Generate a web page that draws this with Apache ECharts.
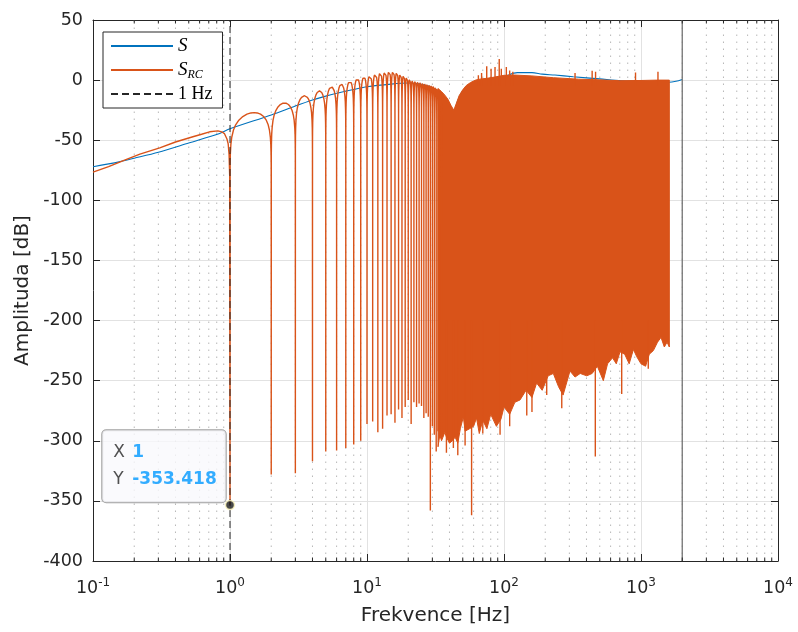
<!DOCTYPE html>
<html><head><meta charset="utf-8">
<script src="https://cdn.jsdelivr.net/npm/echarts@6/dist/echarts.min.js"></script>
<style>html,body{margin:0;padding:0;background:#fff}#c{width:798px;height:632px}</style>
</head><body><div id="c"></div>
<script>
// ---------------- data ----------------
const xTickHz = [0.1, 1, 10, 100, 1000, 10000];
const xTickExp = ['-1', '0', '1', '2', '3', '4'];
const yTickMin = -400, yTickMax = 50, yTickStep = 50;

// S (blue)
const sHz = [0.1, 0.155, 0.2, 0.3, 0.5, 0.84, 1, 2, 3, 4, 5, 6, 8, 10, 15, 20, 24, 28, 32, 36, 40, 43, 46, 50, 57, 65, 80, 100, 125, 160, 190, 235, 320, 500, 720, 1000, 1300, 1600, 1800, 2000];
const sDb = [-72, -68, -65, -60, -52.3, -44.4, -40.5, -29, -21.6, -16.6, -13.3, -11, -7.8, -5.5, -3.3, -2.4, -3, -5, -8, -13, -20, -26, -17, -9, -3, -1, 0.5, 3, 6.2, 6.2, 5, 4.2, 2.8, 1, -0.5, -0.8, -1.5, -1.8, -1, 0.5];

// S_RC (orange) below 1 Hz
const rcLowHz = [0.1, 0.13, 0.17, 0.22, 0.307, 0.4, 0.536, 0.62, 0.71, 0.816, 0.87, 0.91, 0.95, 0.97, 0.985, 0.995];
const rcLowDb = [-76.5, -72, -66.5, -61.5, -56.3, -51.5, -47.1, -45, -43, -42.2, -43, -44.4, -49, -53, -62, -80];

// S_RC notches at integer Hz and lobe peaks between them
const notchHz = [1,2,3,4,5,6,7,8,9,10,11,12,13,14,15,16,17,18,19,20,21,22,23,24,25,26,27,28,29,30,31,32,33,34,35];
const notchDb = [-353.418,-328,-327,-317,-309,-308,-306,-303,-300,-286,-284,-293,-290,-279,-278,-285,-274,-281,-272,-266,-286,-268,-272,-269,-271,-281,-277,-280,-358,-288,-295,-309,-292,-298,-297];
const lobePeakDb = [-27,-19,-13,-9,-5.5,-3.3,-0.8,1.4,2.8,4.2,5.5,6.6,7.2,7.8,7.8,7,5.5,4.5,3,1.5,0.5,0,-0.5,-1,-1.5,-2,-2.5,-3,-3.5,-4,-5,-6,-7.5,-9];
// shape of one lobe (position inside lobe, dB relative to lobe peak)
const lobeFrac = [0.002,0.006,0.015,0.03,0.06,0.1,0.16,0.24,0.33,0.42,0.5,0.58,0.67,0.76,0.84,0.9,0.94,0.97,0.985,0.994,0.998];
const lobeShapeDb = [-44,-34.5,-26.5,-20.5,-14.5,-10.2,-6.3,-3.3,-1.3,-0.3,0,-0.3,-1.3,-3.3,-6.3,-10.2,-14.5,-20.5,-26.5,-34.5,-44];

// S_RC dense region: upper and lower envelope
const bandTopHz = [33,35,37,39,41,43,45,47,50,53,57,62,68,75,85,100,120,160,230,350,500,700,1000,1300,1610];
const bandTopDb = [-7,-9.5,-12.5,-16,-21,-25,-19,-13,-8,-4.5,-2,0,1,1.5,2.5,4,4.2,3.5,2,0.8,0.2,-0.5,-0.3,0,0];
const bandBotHz = [33,34,35,37,38,40,42,44,46,48,50.5,52,56,60,63,66,70,75,80,88,95,100,110,120,131,145,160,173,190,210,229,250,270,303,330,360,402,440,480,531,570,620,660,703,760,820,880,930,1000,1080,1150,1231,1320,1400,1480,1550,1610];
const bandBotDb = [-305,-295,-300,-293,-297,-302,-300,-297,-302,-290,-280,-292,-290,-288,-281,-294,-283,-290,-278,-288,-282,-272,-278,-268,-266,-258,-264,-252,-258,-246,-244,-255,-262,-242,-247,-244,-246,-244,-238,-250,-236,-231,-236,-226,-228,-236,-224,-230,-236,-238,-228,-225,-218,-214,-222,-218,-222];
// isolated spikes in the dense region
const spikeUpHz = [65, 68.6, 74.8, 80.5, 86, 92.3, 95.6, 104, 110, 116, 330, 440, 466, 912, 1330];
const spikeUpDb = [4, 6, 11.5, 9.5, 11, 17.5, 9.5, 11, 8, 7, 6, 7.8, 7, 6.4, 7];
const spikeDownHz = [38, 42.7, 46, 52, 58, 70, 93.6, 110, 146.6, 160, 205, 264, 464, 723, 1130];
const spikeDownDb = [-310, -306, -312, -304, -362, -294, -295, -288, -279, -276, -262, -273, -313, -261, -240];

// vertical reference lines
const markerHz = [1];          // "1 Hz" dashed line
const limitHz = [2000];        // grey solid line
// data tip
const tipHz = [1];
const tipDb = [-353.418];

// ---------------- build series data ----------------
const sData = sHz.map((f, i) => [f, sDb[i]]);
const rcData = rcLowHz.map((f, i) => [f, rcLowDb[i]]);
for (let i = 0; i < notchHz.length; i++) {
  rcData.push([notchHz[i], notchDb[i]]);
  if (i < lobePeakDb.length) {
    const a = notchHz[i], b = notchHz[i + 1];
    lobeFrac.forEach((fr, j) => rcData.push([a + fr * (b - a), lobePeakDb[i] + lobeShapeDb[j]]));
  }
}
const spikeData = [];
spikeUpHz.forEach((f, i) => { spikeData.push([f, -5], [f, spikeUpDb[i]], [f, '-']); });
spikeDownHz.forEach((f, i) => { spikeData.push([f, -200], [f, spikeDownDb[i]], [f, '-']); });

const minorHz = [];
for (let d = -1; d <= 3; d++) for (let k = 2; k <= 9; k++) minorHz.push(+(k * Math.pow(10, d)).toPrecision(6));
const minorGrid = [], minorTicks = [];
const tickLenDb = 3.5 * (yTickMax - yTickMin) / 541;
minorHz.forEach(f => {
  minorGrid.push([f, yTickMin], [f, yTickMax], [f, '-']);
  minorTicks.push([f, yTickMin], [f, yTickMin + tickLenDb], [f, '-'], [f, yTickMax], [f, yTickMax - tickLenDb], [f, '-']);
});

const dark = '#262626';
const sansFont = 'DejaVu Sans';
const blue = '#0072BD', orange = '#D95319';

const option = {
  animation: false,
  grid: { left: 93, right: 20, top: 20, bottom: 71, containLabel: false },
  legend: {
    left: 103, top: 32, orient: 'vertical',
    data: [{ name: 'S' }, { name: 'S_RC' }, { name: '1 Hz' }],
    itemWidth: 62, itemHeight: 14, itemGap: 2,
    padding: [3, 10, 3, 7],
    borderColor: dark, borderWidth: 1, backgroundColor: '#ffffff',
    selectedMode: false,
    itemStyle: { opacity: 0 },
    formatter: name => name === 'S' ? '{i|S}' : (name === 'S_RC' ? '{i|S}{sub|RC}' : '{r|1 Hz}'),
    textStyle: {
      fontFamily: 'Liberation Serif', fontSize: 18, color: '#000', lineHeight: 22,
      rich: {
        i: { fontFamily: 'Liberation Serif', fontStyle: 'italic', fontSize: 19, lineHeight: 22, color: '#000' },
        sub: { fontFamily: 'Liberation Serif', fontStyle: 'italic', fontSize: 12, lineHeight: 10, verticalAlign: 'bottom', color: '#000' },
        r: { fontFamily: 'Liberation Serif', fontSize: 18, lineHeight: 22, color: '#000' }
      }
    }
  },
  xAxis: [{
    type: 'log', logBase: 10, min: xTickHz[0], max: xTickHz[xTickHz.length - 1], splitNumber: 5,
    position: 'bottom',
    name: 'Frekvence [Hz]', nameLocation: 'middle', nameGap: 45,
    nameTextStyle: { fontFamily: sansFont, fontSize: 20, color: dark },
    axisLine: { onZero: false, lineStyle: { color: dark, width: 1 } },
    axisTick: { inside: true, length: 7, lineStyle: { color: dark } },
    splitLine: { show: true, lineStyle: { color: '#e2e2e2', width: 1 } },
    axisLabel: {
      margin: 16, color: dark,
      formatter: v => {
        let idx = 0;
        xTickHz.forEach((t, i) => { if (Math.abs(Math.log10(t) - Math.log10(v)) < 1e-6) idx = i; });
        return '{b|10}{s|' + xTickExp[idx] + '}';
      },
      rich: {
        b: { fontFamily: sansFont, fontSize: 17.5, color: dark, lineHeight: 22 },
        s: { fontFamily: sansFont, fontSize: 12, color: dark, lineHeight: 12, verticalAlign: 'top' }
      }
    }
  }, {
    type: 'log', logBase: 10, min: xTickHz[0], max: xTickHz[xTickHz.length - 1], splitNumber: 5,
    position: 'top',
    axisLine: { onZero: false, lineStyle: { color: dark, width: 1 } },
    axisTick: { inside: true, length: 7, lineStyle: { color: dark } },
    axisLabel: { show: false }, splitLine: { show: false }
  }],
  yAxis: [{
    type: 'value', min: yTickMin, max: yTickMax, interval: yTickStep,
    name: 'Amplituda [dB]', nameLocation: 'middle', nameGap: 55,
    nameTextStyle: { fontFamily: sansFont, fontSize: 20, color: dark },
    axisLine: { show: true, onZero: false, lineStyle: { color: dark, width: 1 } },
    axisTick: { show: true, inside: true, length: 7, lineStyle: { color: dark } },
    splitLine: { show: true, lineStyle: { color: '#e2e2e2', width: 1 } },
    axisLabel: { margin: 10, color: dark, fontFamily: sansFont, fontSize: 17.5 }
  }, {
    type: 'value', min: yTickMin, max: yTickMax, interval: yTickStep, position: 'right',
    axisLine: { show: true, onZero: false, lineStyle: { color: dark, width: 1 } },
    axisTick: { show: true, inside: true, length: 7, lineStyle: { color: dark } },
    axisLabel: { show: false }, splitLine: { show: false }
  }],
  series: [
    { name: 'minorGrid', type: 'line', data: minorGrid, symbol: 'none', silent: true, z: 1,
      lineStyle: { color: '#b8b8b8', width: 1, type: [1.5, 5.5] }, connectNulls: false },
    { name: 'S', type: 'line', data: sData, symbol: 'none', smooth: 0.3, z: 2,
      lineStyle: { color: blue, width: 1.1 }, itemStyle: { color: blue } },
    { name: 'S_RC', type: 'line', data: rcData, symbol: 'none', z: 3,
      lineStyle: { color: orange, width: 1.4 }, itemStyle: { color: orange } },
    { name: 'S_RC band', type: 'custom', z: 3, silent: true,
      data: bandTopHz.map((f, i) => [f, bandTopDb[i]]), encode: { x: 0, y: 1 },
      renderItem: (params, api) => {
        if (params.dataIndex !== 0) return null;
        const pts = [];
        bandTopHz.forEach((f, i) => pts.push(api.coord([f, bandTopDb[i]])));
        for (let i = bandBotHz.length - 1; i >= 0; i--) pts.push(api.coord([bandBotHz[i], bandBotDb[i]]));
        return { type: 'polygon', shape: { points: pts }, style: { fill: orange, stroke: orange, lineWidth: 1 } };
      } },
    { name: 'S_RC spikes', type: 'line', data: spikeData, symbol: 'none', z: 3, silent: true,
      lineStyle: { color: orange, width: 1.4 }, connectNulls: false },
    { name: '1 Hz', type: 'line', data: [[markerHz[0], yTickMin], [markerHz[0], yTickMax]], symbol: 'none', z: 4,
      lineStyle: { color: dark, width: 1, type: [7, 4] }, itemStyle: { color: dark } },
    { name: 'limit', type: 'line', data: [[limitHz[0], yTickMin], [limitHz[0], yTickMax]], symbol: 'none', z: 4, silent: true,
      lineStyle: { color: '#737373', width: 1.3 } },
    { name: 'minorTicks', type: 'line', data: minorTicks, symbol: 'none', z: 4, silent: true,
      lineStyle: { color: dark, width: 1 }, connectNulls: false },
    { name: 'tip', type: 'scatter', data: tipHz.map((f, i) => [f, tipDb[i]]), z: 10,
      symbolSize: 9, itemStyle: { color: '#1a1a1a', borderColor: '#fff7c0', borderWidth: 1.5 },
      label: {
        show: true, position: [-122.5, 2.5], align: 'left', verticalAlign: 'bottom',
        backgroundColor: '#f9f9fd', borderColor: '#8a8a8a', borderWidth: 1, borderRadius: 4,
        padding: [9, 9, 9, 11], lineHeight: 27,
        formatter: p => '{l|X}{v|' + p.value[0] + '}\n{l|Y}{v|' + p.value[1] + '}',
        rich: {
          l: { fontFamily: sansFont, fontSize: 17, color: dark, width: 19, lineHeight: 27 },
          v: { fontFamily: sansFont, fontSize: 17, color: '#0099ff', fontWeight: 'bold', lineHeight: 27 }
        }
      } }
  ]
};
const chart = echarts.init(document.getElementById('c'), null, { renderer: 'canvas' });
chart.setOption(option);
</script>
</body></html>
